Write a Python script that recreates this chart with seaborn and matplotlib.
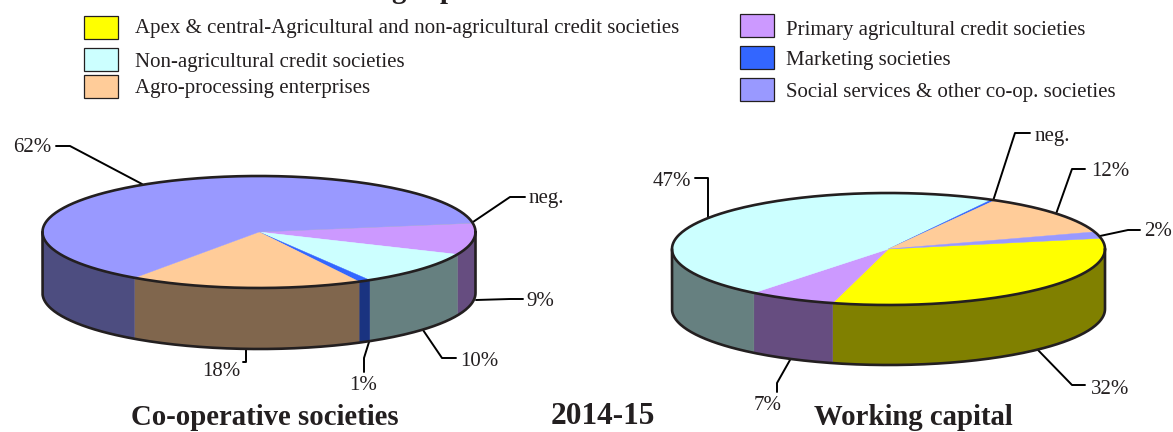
import numpy as np
import matplotlib
matplotlib.use("Agg")
import matplotlib.pyplot as plt
import seaborn as sns

categories = ["Apex & central-Agricultural and non-agricultural credit societies",
              "Non-agricultural credit societies", "Agro-processing enterprises",
              "Primary agricultural credit societies", "Marketing societies",
              "Social services & other co-op. societies"]
face_colors = ["#FFFF00", "#CCFFFF", "#FFCC99", "#CC99FF", "#3366FF", "#9999FF"]
side_colors = ["#808000", "#668080", "#80664D", "#664D80", "#1A3380", "#4D4D80"]

# clockwise order of slices, by category index
left_order = [0, 3, 1, 4, 2, 5]
left_values = [0.05, 9.0, 9.9, 0.9, 17.4, 62.75]
right_order = [0, 3, 1, 4, 2, 5]
right_values = [32.3, 6.55, 47.35, 0.3, 11.9, 1.9]

INK = "#231F20"
sns.set_theme(style="white")
plt.rcParams["font.family"] = ["Liberation Serif", "DejaVu Serif"]
palette_face = sns.color_palette(face_colors)
palette_side = sns.color_palette(side_colors)

fig = plt.figure(figsize=(11.73, 4.32), dpi=100)
ax = fig.add_axes([0, 0, 1, 1])
ax.set_xlim(0, 1173)
ax.set_ylim(432, 0)
ax.axis("off")


def pie3d(cx, cy, rx, ry, depth, order, values, start):
    vals = np.array(values, float)
    edges = start - np.concatenate([[0], np.cumsum(vals)]) * 360 / vals.sum()
    for i, c in enumerate(order):
        a0, a1 = edges[i], edges[i + 1]
        # front wall: the part of the slice lying in angles (-180, 0), also shifted by 360
        for shift in (0, -360, 360):
            lo = max(a1 + shift, -180)
            hi = min(a0 + shift, 0)
            if hi > lo:
                t = np.radians(np.linspace(lo, hi, 80))
                x = cx + rx * np.cos(t)
                y = cy - ry * np.sin(t)
                ax.fill(np.r_[x, x[::-1]], np.r_[y, y[::-1] + depth],
                        color=palette_side[c], lw=0.3, zorder=2)
    for i, c in enumerate(order):
        t = np.radians(np.linspace(edges[i], edges[i + 1], 120))
        x = np.r_[cx, cx + rx * np.cos(t)]
        y = np.r_[cy, cy - ry * np.sin(t)]
        ax.fill(x, y, color=palette_face[c], lw=0.3, zorder=3)
    t = np.radians(np.linspace(0, 360, 400))
    ax.plot(cx + rx * np.cos(t), cy - ry * np.sin(t), color=INK, lw=1.9, zorder=4)
    t = np.radians(np.linspace(-180, 0, 200))
    ax.plot(np.r_[cx - rx, cx + rx * np.cos(t), cx + rx],
            np.r_[cy, cy - ry * np.sin(t) + depth, cy], color=INK, lw=1.9, zorder=4)


pie3d(259, 232, 216.5, 56, 61, left_order, left_values, 9)
pie3d(888.5, 249, 216.5, 56, 60, right_order, right_values, 11)

leaders = [
    ("62%", (51, 148), "right", [(56, 146), (70, 146), (142, 184)]),
    ("neg.", (529, 198), "left", [(473, 222), (510, 197), (525, 197)]),
    ("9%", (526, 302), "left", [(476, 300), (510, 299), (523, 299)]),
    ("10%", (460, 362), "left", [(423, 330), (442, 358), (456, 358)]),
    ("1%", (363, 385), "center", [(369, 342), (364, 358), (364, 372)]),
    ("18%", (240, 372), "right", [(246, 349), (246, 362), (243, 362)]),
    ("47%", (691, 181), "right", [(695, 178), (708, 178), (708, 219)]),
    ("neg.", (1035, 137), "left", [(993, 201), (1015, 133), (1030, 133)]),
    ("12%", (1091, 172), "left", [(1056, 214), (1072, 169), (1085, 169)]),
    ("2%", (1144, 232), "left", [(1100, 236), (1128, 230), (1140, 230)]),
    ("32%", (1091, 389), "left", [(1037, 349), (1072, 385), (1085, 385)]),
    ("7%", (768, 405), "center", [(790, 360), (777, 383), (777, 392)]),
]
for label, (tx, ty), ha, pts in leaders:
    p = np.array(pts)
    ax.plot(p[:, 0], p[:, 1], color="black", lw=1.4, zorder=1)
    ax.text(tx, ty, label, ha=ha, va="center", fontsize=15, color=INK)

legend_pos = [(84, 16, 135, 28), (84, 48, 135, 62), (84, 75, 135, 89),
              (740, 14, 786, 31), (740, 46, 786, 61), (740, 78, 786, 93)]
for i, (x0, y0, tx, ty) in enumerate(legend_pos):
    w = 34
    ax.fill([x0, x0 + w, x0 + w, x0], [y0, y0, y0 + 23, y0 + 23],
            facecolor=palette_face[i], edgecolor=INK, lw=0.9)
    ax.text(tx, ty, categories[i], va="center", ha="left", fontsize=15, color=INK)

titles = [("Co-operative societies", 264.5, 417.5, 20.7), ("2014-15", 603, 416.5, 22.6),
          ("Working capital", 913, 417.5, 20.7)]
for s, x, y, size in titles:
    ax.text(x, y, s, ha="center", va="center", fontsize=size, fontweight="bold", color=INK)

# the bottom edge of a title line cut off by the picture's top border
ax.text(398, -1.5, "g", ha="center", va="baseline", fontsize=20.7, fontweight="bold", color=INK, clip_on=True)
ax.text(448, -1.5, "p", ha="center", va="baseline", fontsize=20.7, fontweight="bold", color=INK, clip_on=True)

fig.savefig("out.png", dpi=100)
